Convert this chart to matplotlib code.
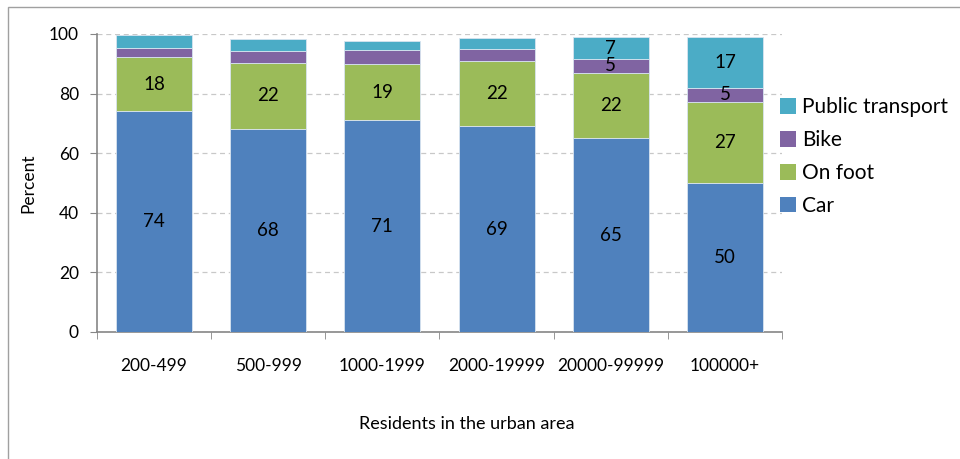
import numpy as np
import matplotlib
matplotlib.use("Agg")
import matplotlib.pyplot as plt
from matplotlib.patches import Patch, Rectangle

plt.rcParams['font.family'] = ['Lato', 'DejaVu Sans']

categories = ['200-499', '500-999', '1000-1999', '2000-19999', '20000-99999', '100000+']
car = [74, 68, 71, 69, 65, 50]
on_foot = [18.2, 22.4, 18.8, 21.9, 22, 27.3]
bike = [3.1, 4.0, 4.7, 4.2, 4.6, 4.6]
public_transport = [4.3, 3.9, 3.3, 3.7, 7.4, 17.2]
# which categories get labels on the thin bike / public transport segments
small_labels = [4, 5]

series = [('Car', car, '#4F81BD'),
          ('On foot', on_foot, '#9BBB59'),
          ('Bike', bike, '#8064A2'),
          ('Public transport', public_transport, '#4BACC6')]

fig = plt.figure(figsize=(9.6, 4.59), dpi=100)
ax = fig.add_axes([97/960, 1-332/459, (782-97)/960, (332-34)/459])

x = np.arange(len(categories))
bottom = np.zeros(len(categories))
handles = []
for name, vals, col in series:
    vals = np.array(vals)
    ax.bar(x, vals, 0.665, bottom=bottom, color=col, edgecolor='#d8e4f0',
           linewidth=0.6, zorder=3)
    for i, v in enumerate(vals):
        if name in ('Car', 'On foot') or i in small_labels:
            ax.text(x[i], bottom[i] + v/2, f"{v:.0f}", ha='center', va='center',
                    fontsize=13.5, color='black', zorder=4)
    bottom += vals
    handles.append(Patch(facecolor=col, label=name))

ax.set_xlim(-0.5, len(categories) - 0.5)
ax.set_ylim(0, 100)
ax.set_yticks([0, 20, 40, 60, 80, 100])
ax.yaxis.grid(True, linestyle=(0, (4, 3)), color='#c8c8c8', linewidth=0.9, zorder=0)
ax.set_xticks(x)
ax.set_xticklabels(categories)
ax.set_xticks(np.arange(-0.5, len(categories)), minor=True)
ax.tick_params(axis='x', which='major', length=0, pad=19, labelsize=12.5)
ax.tick_params(axis='x', which='minor', length=5, color='#868686', direction='out')
ax.tick_params(axis='y', length=5, color='#868686', labelsize=12.5, pad=8)
for s in ('top', 'right'):
    ax.spines[s].set_visible(False)
for s in ('left', 'bottom'):
    ax.spines[s].set_color('#868686')
    ax.spines[s].set_linewidth(1.2)

ax.set_ylabel('Percent', fontsize=12.5, labelpad=9)
fig.text(467/960, 1-424/459, 'Residents in the urban area', ha='center', va='center',
         fontsize=13)

fig.legend(handles=handles[::-1], loc='upper left', bbox_to_anchor=(772/960, 1-89/459),
           frameon=False, fontsize=15, handlelength=0.75, handleheight=0.75,
           handletextpad=0.3, labelspacing=0.62, borderaxespad=0)

fig.patches.append(Rectangle((8/960, -0.1), 2, 1.1 - 7/459, transform=fig.transFigure,
                             fill=False, edgecolor='#a0a0a0', linewidth=1))

fig.savefig('out.png', dpi=100)
